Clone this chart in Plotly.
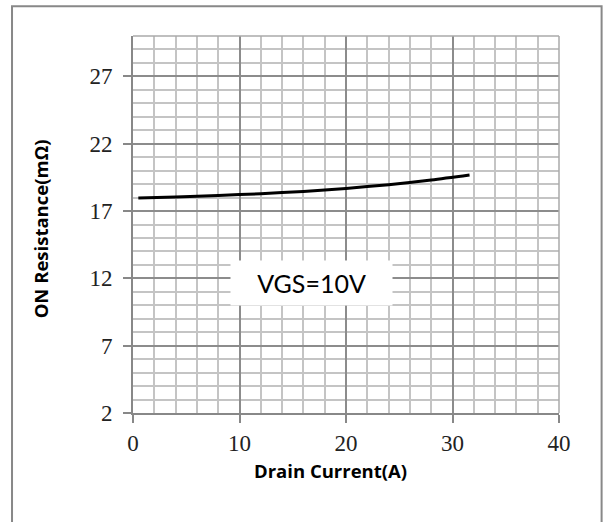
import plotly.graph_objects as go

drain_current = [0.5, 4, 8, 12, 16, 20, 24, 28, 31.6]
on_resistance = [17.96, 18.05, 18.16, 18.29, 18.46, 18.68, 18.96, 19.30, 19.67]

x_ticks = [0, 10, 20, 30, 40]
y_ticks = [2, 7, 12, 17, 22, 27]

fig = go.Figure()
fig.add_trace(go.Scatter(x=drain_current, y=on_resistance, mode="lines",
                         line=dict(color="black", width=3, shape="spline", smoothing=0.8),
                         showlegend=False))

tick_font = dict(family="Liberation Serif, Times New Roman, serif", size=23, color="#222")
fig.update_layout(
    width=610, height=522,
    margin=dict(l=133, r=51, t=36, b=109),
    paper_bgcolor="white", plot_bgcolor="white",
    xaxis=dict(range=[0, 40], tickvals=x_ticks, ticks="outside", ticklen=8,
               tickcolor="#888", tickwidth=1.5, tickfont=tick_font,
               showline=True, linecolor="#888", linewidth=2, mirror=False,
               showgrid=True, gridcolor="#8c8c8c", gridwidth=1.5,
               minor=dict(dtick=2, showgrid=True, gridcolor="#c4c4c4", gridwidth=1.5),
               zeroline=False),
    yaxis=dict(range=[2, 30], tickvals=y_ticks, ticks="outside", ticklen=8,
               tickcolor="#888", tickwidth=1.5, tickfont=tick_font,
               showline=True, linecolor="#888", linewidth=2,
               showgrid=True, gridcolor="#8c8c8c", gridwidth=1.5,
               minor=dict(tick0=2, dtick=1, showgrid=True, gridcolor="#c4c4c4", gridwidth=1.5),
               zeroline=False, ticklabelstandoff=6),
    shapes=[
        dict(type="line", xref="paper", yref="paper", x0=1, x1=1, y0=0, y1=1,
             line=dict(color="#aaa", width=1.5)),
        dict(type="line", xref="paper", yref="paper", x0=0, x1=1, y0=1, y1=1,
             line=dict(color="#aaa", width=1.5)),
        dict(type="rect", xref="paper", yref="paper",
             x0=-0.284, x1=1.100, y0=-0.293, y1=1.079,
             line=dict(color="#888", width=2), layer="below"),
    ],
    annotations=[
        dict(x=16.8, y=11.63, xref="x", yref="y", text="VGS=10V", showarrow=False,
             font=dict(family="Lato, Open Sans, sans-serif", size=25, color="black"),
             bgcolor="white", width=159, height=42, align="center"),
        dict(x=(331 - 133) / 426.3, y=(412.7 - 470) / 377, xref="paper", yref="paper",
             xanchor="center", yanchor="middle",
             text="<b>Drain Current(A)</b>", showarrow=False,
             font=dict(family="Open Sans, sans-serif", size=18.5, color="black")),
        dict(text="<b>ON Resistance(mΩ)</b>", xref="paper", yref="paper",
             x=(40 - 133) / 426.3, y=(412.7 - 229) / 377, xanchor="center", yanchor="middle",
             textangle=-90, showarrow=False,
             font=dict(family="Open Sans, sans-serif", size=18.5, color="black")),
    ],
)
fig.write_html("out.html")
